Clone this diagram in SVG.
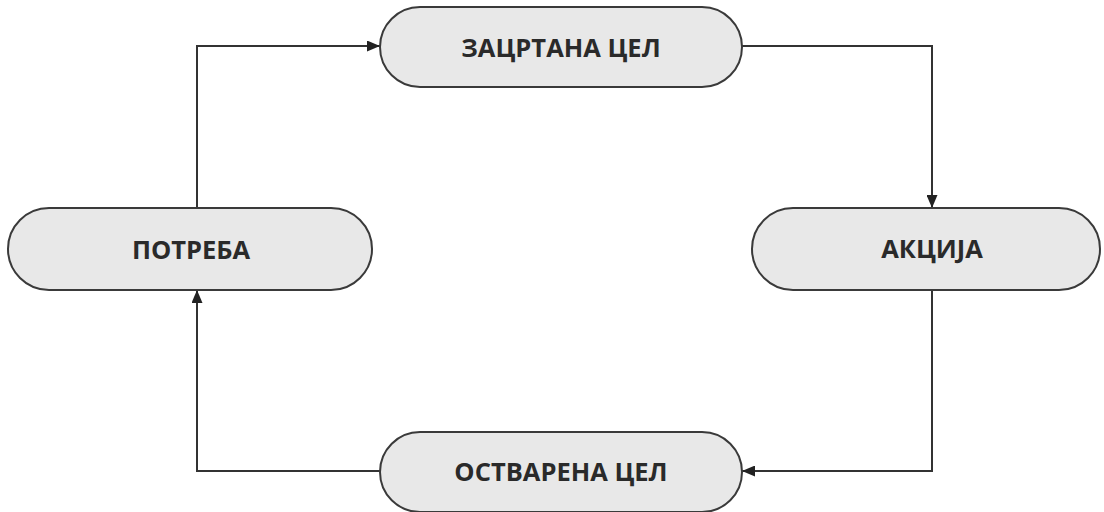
<svg xmlns="http://www.w3.org/2000/svg" width="1104" height="512" viewBox="0 0 1104 512">
<style>
.node{fill:#e8e8e8;stroke:#3a3a3a;stroke-width:2}
.lbl{font-family:"Open Sans","Liberation Sans",sans-serif;font-weight:700;font-size:25.5px;fill:#2a2a2a;text-anchor:middle}
.conn{fill:none;stroke:#333;stroke-width:2}
</style>
<defs>
<marker id="arr" viewBox="0 0 13 11" refX="13" refY="5.5" markerWidth="13" markerHeight="11" markerUnits="userSpaceOnUse" orient="auto">
<path d="M0,0 L13,5.5 L0,11 Z" fill="#222"/>
</marker>
</defs>
<rect width="1104" height="512" fill="#fff"/>
<g id="connectors">
<path class="conn" d="M197,208 V46 H380" marker-end="url(#arr)"/>
<path class="conn" d="M742,46 H932 V208" marker-end="url(#arr)"/>
<path class="conn" d="M932,290 V471 H742" marker-end="url(#arr)"/>
<path class="conn" d="M380,471 H197 V290" marker-end="url(#arr)"/>
</g>
<g id="node-zacrtana">
<rect class="node" x="380" y="7" width="362" height="80" rx="40"/>
<text class="lbl" x="561" y="57">ЗАЦРТАНА ЦЕЛ</text>
</g>
<g id="node-potreba">
<rect class="node" x="8" y="208" width="364" height="82" rx="41"/>
<text class="lbl" x="191" y="259">ПОТРЕБА</text>
</g>
<g id="node-akcija">
<rect class="node" x="752" y="208" width="348" height="82" rx="41"/>
<text class="lbl" x="932" y="258">АКЦИЈА</text>
</g>
<g id="node-ostvarena">
<rect class="node" x="380" y="432" width="362" height="80" rx="40"/>
<text class="lbl" x="561" y="481">ОСТВАРЕНА ЦЕЛ</text>
</g>
</svg>
